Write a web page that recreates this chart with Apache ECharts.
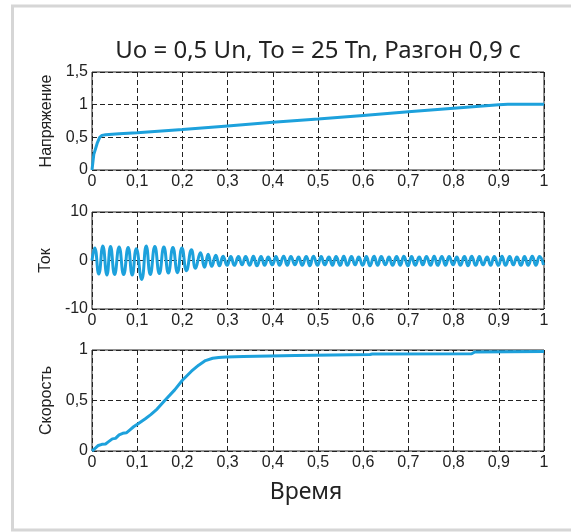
<!DOCTYPE html>
<html>
<head>
<meta charset="utf-8">
<script src="https://cdn.jsdelivr.net/npm/echarts@6/dist/echarts.min.js"></script>
<style>
html, body { margin: 0; padding: 0; background: #fff; }
#chart { width: 571px; height: 532px; }
</style>
</head>
<body>
<div id="chart"></div>
<script>
var titleText = 'Uo = 0,5 Un, To = 25 Tn, Разгон 0,9 с';
var xName = 'Время';
var yNames = ['Напряжение', 'Ток', 'Скорость'];

// напряжение
var voltageTime = [0, 0.002, 0.004, 0.008, 0.012, 0.017, 0.022, 0.03, 0.06, 0.1, 0.2, 0.3, 0.4, 0.5, 0.6, 0.7, 0.8, 0.9, 0.92, 1.0];
var voltageValue = [0, 0.12, 0.24, 0.33, 0.42, 0.5, 0.53, 0.54, 0.555, 0.57, 0.62, 0.675, 0.73, 0.78, 0.835, 0.89, 0.945, 1.0, 1.005, 1.005];

// ток (пики и впадины)
var currentTime = [
    0, 0.006, 0.015, 0.024, 0.033, 0.041, 0.050, 0.060, 0.070, 0.080, 0.089, 0.098, 0.110,
    0.120, 0.129, 0.139, 0.149, 0.159, 0.169, 0.179, 0.189, 0.199, 0.209, 0.220, 0.229, 0.240,
    0.249, 0.257, 0.265, 0.274, 0.282, 0.290, 0.299, 0.307, 0.315, 0.324, 0.332, 0.340,
    0.349, 0.357, 0.365, 0.374, 0.382, 0.390, 0.399, 0.407, 0.415, 0.424, 0.432, 0.440,
    0.449, 0.457, 0.465, 0.474, 0.482, 0.490, 0.499, 0.507, 0.515, 0.524, 0.532, 0.540,
    0.549, 0.557, 0.565, 0.574, 0.582, 0.590, 0.599, 0.607, 0.615, 0.624, 0.632, 0.640,
    0.649, 0.657, 0.665, 0.674, 0.682, 0.690, 0.699, 0.707, 0.715, 0.724, 0.732, 0.740,
    0.749, 0.757, 0.765, 0.774, 0.782, 0.790, 0.799, 0.807, 0.815, 0.824, 0.832, 0.840,
    0.849, 0.857, 0.865, 0.874, 0.882, 0.890, 0.899, 0.907, 0.915, 0.924, 0.932, 0.940,
    0.949, 0.957, 0.965, 0.974, 0.982, 0.990, 0.999
];
var currentValue = [
    0, 2.6, -2.8, 3.0, -3.0, 2.9, -2.9, 2.8, -2.9, 2.7, -3.0, 2.4, -3.9,
    3.0, -2.9, 2.9, -2.7, 2.8, -2.6, 2.7, -2.5, 2.6, -2.1, 2.2, -1.6, 1.6,
    -1.4, 1.3, -1.2, 1.1, -1.1, 0.9, -1.0, 0.8, -1.0, 0.8, -0.9, 0.8,
    -1.0, 0.9, -1.1, 0.8, -1.0, 0.7, -0.9, 0.8, -1.0, 0.9, -1.0, 0.8,
    -0.9, 0.7, -1.0, 0.8, -1.1, 0.9, -1.0, 0.8, -0.9, 0.7, -1.0, 0.8,
    -1.0, 0.9, -1.0, 0.8, -0.9, 0.7, -1.0, 0.8, -1.1, 0.9, -1.0, 0.8,
    -0.9, 0.7, -1.0, 0.8, -1.0, 0.9, -1.1, 0.8, -1.0, 0.7, -0.9, 0.8,
    -1.0, 0.9, -1.0, 0.8, -1.0, 0.8, -0.9, 0.7, -1.0, 0.8, -1.1, 0.9,
    -1.0, 0.8, -0.9, 0.7, -1.0, 0.8, -1.0, 0.9, -1.0, 0.8, -0.9, 0.7,
    -1.0, 0.8, -1.0, 0.9, -1.0, 0.8, -0.9
];

// скорость
var speedTime = [0, 0.008, 0.014, 0.022, 0.030, 0.036, 0.045, 0.052, 0.060, 0.068, 0.076, 0.084, 0.092, 0.102, 0.118, 0.130, 0.144, 0.160, 0.183, 0.200, 0.220, 0.236, 0.251, 0.267, 0.280, 0.297, 0.335, 0.450, 0.615, 0.620, 0.840, 0.847, 1.0];
var speedValue = [0, 0.03, 0.055, 0.066, 0.07, 0.09, 0.12, 0.125, 0.16, 0.175, 0.18, 0.21, 0.24, 0.27, 0.32, 0.36, 0.415, 0.495, 0.605, 0.70, 0.79, 0.85, 0.895, 0.918, 0.925, 0.93, 0.935, 0.945, 0.955, 0.96, 0.963, 0.98, 0.985];

var yMin = [0, -10, 0];
var yMax = [1.5, 10, 1];
var yStep = [0.5, 10, 0.5];

var lineColor = '#1da1dc';
var textColor = '#222';
var labelFont = '"Liberation Sans", Arial, sans-serif';
var grids = [
    { left: 92, top: 72, width: 452, height: 98 },
    { left: 92, top: 212, width: 452, height: 97 },
    { left: 92, top: 350, width: 452, height: 101 }
];

function zip(xs, ys) {
    var out = [];
    for (var i = 0; i < xs.length; i++) {
        out.push([xs[i], ys[i]]);
    }
    return out;
}

function commaNum(v) {
    return String(+v.toFixed(2)).replace('.', ',');
}

var chart = echarts.init(document.getElementById('chart'));
var xAxes = [], yAxes = [];
for (var i = 0; i < 3; i++) {
    grids[i].show = true;
    grids[i].borderColor = textColor;
    grids[i].borderWidth = 1;
    grids[i].backgroundColor = 'transparent';
    xAxes.push({
        type: 'value', gridIndex: i, min: 0, max: 1, interval: 0.1,
        axisLine: { show: false }, axisTick: { show: false },
        axisLabel: { color: textColor, fontSize: 16, fontFamily: labelFont, margin: 4, formatter: commaNum },
        splitLine: { lineStyle: { color: textColor, type: [5, 3], width: 1 } }
    });
    yAxes.push({
        type: 'value', gridIndex: i, min: yMin[i], max: yMax[i], interval: yStep[i],
        name: yNames[i], nameLocation: 'middle', nameGap: 37,
        nameTextStyle: { color: textColor, fontSize: 16, fontFamily: labelFont },
        axisLine: { show: false }, axisTick: { show: false },
        axisLabel: { color: textColor, fontSize: 16, fontFamily: labelFont, margin: 4, formatter: commaNum },
        splitLine: { lineStyle: { color: textColor, type: [5, 3], width: 1 } }
    });
}

var option = {
    backgroundColor: '#fff',
    animation: false,
    grid: grids,
    xAxis: xAxes,
    yAxis: yAxes,
    graphic: [
        { type: 'rect', shape: { x: 12.5, y: 6, width: 600, height: 524 }, style: { fill: 'none', stroke: '#d6d6d6', lineWidth: 3 } },
        { type: 'text', x: 318, y: 51, style: { text: titleText, fill: textColor, font: '24px "Noto Sans", sans-serif', textAlign: 'center', textVerticalAlign: 'middle' } },
        { type: 'text', x: 306, y: 492, style: { text: xName, fill: textColor, font: '23px "Noto Sans", sans-serif', textAlign: 'center', textVerticalAlign: 'middle' } }
    ],
    series: [
        { type: 'line', xAxisIndex: 0, yAxisIndex: 0, data: zip(voltageTime, voltageValue), showSymbol: false, lineStyle: { color: lineColor, width: 3 } },
        { type: 'line', xAxisIndex: 1, yAxisIndex: 1, data: zip(currentTime, currentValue), smooth: 0.5, showSymbol: false, lineStyle: { color: lineColor, width: 3 } },
        { type: 'line', xAxisIndex: 2, yAxisIndex: 2, data: zip(speedTime, speedValue), showSymbol: false, lineStyle: { color: lineColor, width: 3 } }
    ]
};
chart.setOption(option);
</script>
</body>
</html>
